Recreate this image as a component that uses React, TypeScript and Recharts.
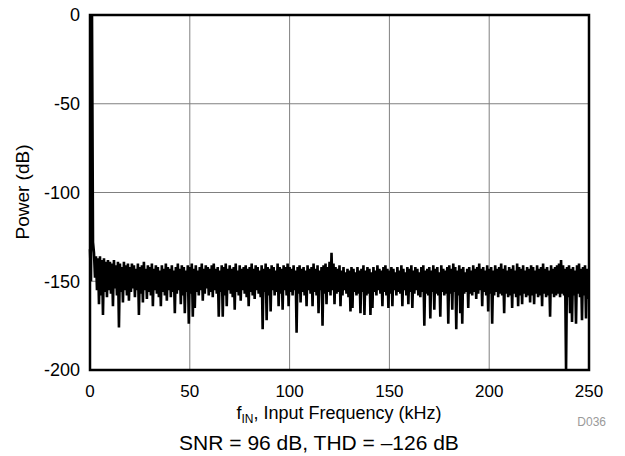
import React from 'react';
import {
  LineChart,
  Line,
  XAxis,
  YAxis,
  CartesianGrid,
  ReferenceArea,
} from 'recharts';

// one bin per kHz: peak value at f = k, trough value at f = k + 0.5
const peakDb = [
  -132, 0, -134, -136, -137, -136, -138, -137, -139, -138,
  -139, -140, -138, -141, -139, -140, -142, -139, -141, -140,
  -142, -140, -141, -143, -140, -142, -141, -139, -143, -141,
  -142, -140, -143, -141, -142, -144, -141, -143, -140, -142,
  -143, -141, -144, -142, -140, -143, -141, -142, -144, -141,
  -142, -140, -143, -141, -144, -142, -140, -143, -141, -142,
  -143, -141, -140, -143, -142, -144, -141, -142, -140, -143,
  -141, -143, -142, -140, -144, -141, -143, -142, -141, -143,
  -142, -140, -143, -141, -142, -144, -141, -143, -140, -142,
  -143, -141, -142, -144, -140, -142, -143, -141, -142, -140,
  -142, -143, -141, -144, -142, -141, -143, -142, -144, -141,
  -143, -142, -140, -143, -141, -144, -142, -141, -140, -142,
  -139, -134, -140, -142, -143, -141, -144, -142, -145, -143,
  -144, -142, -143, -145, -142, -144, -143, -141, -144, -142,
  -143, -145, -142, -144, -141, -143, -144, -142, -141, -143,
  -144, -142, -143, -145, -142, -144, -141, -143, -145, -142,
  -143, -141, -144, -142, -143, -145, -142, -141, -144, -143,
  -142, -144, -141, -143, -142, -145, -141, -143, -144, -142,
  -141, -143, -140, -142, -144, -141, -143, -142, -145, -143,
  -142, -144, -141, -143, -142, -140, -143, -142, -144, -141,
  -143, -142, -144, -141, -143, -142, -140, -143, -141, -144,
  -142, -143, -141, -144, -140, -142, -143, -141, -144, -142,
  -143, -141, -142, -144, -141, -143, -142, -140, -143, -142,
  -144, -141, -143, -142, -141, -140, -138, -141, -143, -142,
  -141, -143, -142, -144, -141, -140, -143, -142, -141, -143,
];

const troughDb = [
  -150, -128, -148, -155, -163, -158, -169, -156, -159, -155,
  -157, -164, -154, -158, -176, -156, -162, -155, -158, -161,
  -156, -154, -159, -155, -169, -157, -162, -155, -160, -156,
  -158, -164, -155, -157, -159, -164, -156, -158, -161, -155,
  -159, -156, -168, -157, -155, -163, -158, -168, -156, -174,
  -157, -170, -165, -156, -158, -155, -161, -157, -154, -158,
  -156, -159, -155, -157, -170, -156, -170, -158, -164, -155,
  -157, -159, -166, -156, -158, -161, -155, -157, -159, -164,
  -156, -158, -160, -155, -157, -159, -177, -156, -172, -158,
  -167, -155, -158, -156, -164, -157, -166, -155, -158, -164,
  -156, -158, -155, -179, -157, -162, -156, -158, -164, -155,
  -157, -164, -156, -158, -168, -155, -175, -157, -163, -156,
  -158, -155, -163, -157, -156, -164, -158, -155, -157, -159,
  -167, -165, -156, -158, -157, -168, -156, -169, -158, -157,
  -169, -165, -156, -158, -155, -157, -164, -156, -158, -165,
  -157, -164, -155, -158, -156, -157, -164, -155, -158, -163,
  -156, -165, -157, -155, -158, -159, -156, -175, -157, -158,
  -171, -156, -166, -157, -158, -170, -156, -158, -157, -174,
  -157, -166, -156, -177, -158, -168, -174, -157, -156, -165,
  -157, -158, -156, -160, -157, -155, -164, -156, -158, -167,
  -157, -174, -158, -156, -159, -157, -158, -168, -157, -159,
  -158, -165, -157, -159, -164, -158, -163, -157, -159, -158,
  -162, -158, -163, -157, -159, -158, -164, -157, -159, -158,
  -170, -157, -159, -158, -157, -159, -157, -158, -200, -159,
  -168, -173, -158, -174, -157, -159, -172, -158, -171, -160,
];

const xTicks = [0, 50, 100, 150, 200, 250];
const yTicks = [-200, -150, -100, -50, 0];

const spectrum: { f: number; p: number }[] = [];
peakDb.forEach((v, k) => {
  spectrum.push({ f: k, p: v });
  spectrum.push({ f: k + 0.5, p: troughDb[k] });
});

const FONT = '"Liberation Sans", Arial, sans-serif';

export default function App() {
  return (
    <div style={{ position: 'fixed', left: 0, top: 0, width: 625, height: 456, background: '#fff' }}>
      <LineChart
        width={625}
        height={456}
        data={spectrum}
        margin={{ top: 15, right: 36, bottom: 56, left: 30 }}
      >
        <CartesianGrid stroke="#808080" strokeWidth={1} />
        <XAxis
          dataKey="f"
          type="number"
          domain={[0, 250]}
          ticks={xTicks}
          height={30}
          axisLine={false}
          tickLine={false}
          tickMargin={9}
          tick={{ fill: '#000', fontSize: 17, fontFamily: FONT }}
        />
        <YAxis
          type="number"
          domain={[-200, 0]}
          ticks={yTicks}
          width={60}
          axisLine={false}
          tickLine={false}
          tickMargin={4}
          tick={{ fill: '#000', fontSize: 18, fontFamily: FONT }}
        />
        <Line
          dataKey="p"
          type="linear"
          stroke="#000"
          strokeWidth={2.6}
          dot={false}
          isAnimationActive={false}
        />
        <ReferenceArea
          x1={0}
          x2={250}
          y1={-200}
          y2={0}
          fill="none"
          fillOpacity={0}
          stroke="#000"
          strokeWidth={2.5}
          ifOverflow="visible"
        />
      </LineChart>
      <svg
        width={625}
        height={456}
        style={{ position: 'absolute', left: 0, top: 0, pointerEvents: 'none' }}
        fontFamily={FONT}
      >
        <text
          x={22}
          y={192}
          transform="rotate(-90 22 192)"
          textAnchor="middle"
          dominantBaseline="central"
          fontSize={19}
          fill="#000"
        >
          Power (dB)
        </text>
        <text x={339} y={419} textAnchor="middle" fontSize={18} fill="#000">
          f
          <tspan fontSize={12} dy={4}>IN</tspan>
          <tspan dy={-4}>, Input Frequency (kHz)</tspan>
        </text>
        <text x={606} y={426} textAnchor="end" fontSize={12} fill="#9a9a9a">
          D036
        </text>
        <text x={319} y={450} textAnchor="middle" fontSize={21} fill="#000">
          SNR = 96 dB, THD = –126 dB
        </text>
      </svg>
    </div>
  );
}
